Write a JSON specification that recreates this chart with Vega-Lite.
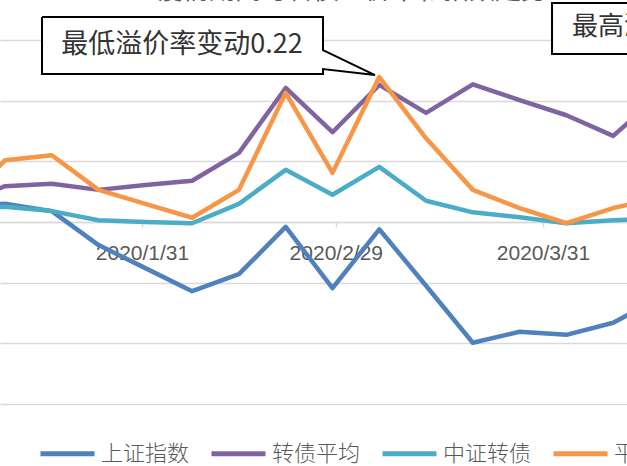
{
  "$schema": "https://vega.github.io/schema/vega-lite/v6.json",
  "width": 627,
  "height": 404,
  "autosize": {"type": "none"},
  "padding": {"left": 0, "top": 0, "right": 0, "bottom": 62},
  "background": "white",
  "config": {"view": {"stroke": null}},
  "datasets": {
    "series": [
      {"date": "2020-01-03T12:00", "series": "上证指数", "value": 0.028},
      {"date": "2020-01-10T12:00", "series": "上证指数", "value": 0.030},
      {"date": "2020-01-17T12:00", "series": "上证指数", "value": 0.018},
      {"date": "2020-01-24T12:00", "series": "上证指数", "value": -0.038},
      {"date": "2020-01-31T12:00", "series": "上证指数", "value": -0.076},
      {"date": "2020-02-07T12:00", "series": "上证指数", "value": -0.114},
      {"date": "2020-02-14T12:00", "series": "上证指数", "value": -0.086},
      {"date": "2020-02-21T12:00", "series": "上证指数", "value": -0.008},
      {"date": "2020-02-28T12:00", "series": "上证指数", "value": -0.109},
      {"date": "2020-03-06T12:00", "series": "上证指数", "value": -0.012},
      {"date": "2020-03-13T12:00", "series": "上证指数", "value": -0.105},
      {"date": "2020-03-20T12:00", "series": "上证指数", "value": -0.199},
      {"date": "2020-03-27T12:00", "series": "上证指数", "value": -0.181},
      {"date": "2020-04-03T12:00", "series": "上证指数", "value": -0.186},
      {"date": "2020-04-10T12:00", "series": "上证指数", "value": -0.166},
      {"date": "2020-04-17T12:00", "series": "上证指数", "value": -0.125},
      {"date": "2020-01-03T12:00", "series": "转债平均", "value": 0.030},
      {"date": "2020-01-10T12:00", "series": "转债平均", "value": 0.059},
      {"date": "2020-01-17T12:00", "series": "转债平均", "value": 0.063},
      {"date": "2020-01-24T12:00", "series": "转债平均", "value": 0.053},
      {"date": "2020-01-31T12:00", "series": "转债平均", "value": 0.061},
      {"date": "2020-02-07T12:00", "series": "转债平均", "value": 0.068},
      {"date": "2020-02-14T12:00", "series": "转债平均", "value": 0.114},
      {"date": "2020-02-21T12:00", "series": "转债平均", "value": 0.221},
      {"date": "2020-02-28T12:00", "series": "转债平均", "value": 0.148},
      {"date": "2020-03-06T12:00", "series": "转债平均", "value": 0.226},
      {"date": "2020-03-13T12:00", "series": "转债平均", "value": 0.180},
      {"date": "2020-03-20T12:00", "series": "转债平均", "value": 0.227},
      {"date": "2020-03-27T12:00", "series": "转债平均", "value": 0.201},
      {"date": "2020-04-03T12:00", "series": "转债平均", "value": 0.176},
      {"date": "2020-04-10T12:00", "series": "转债平均", "value": 0.142},
      {"date": "2020-04-17T12:00", "series": "转债平均", "value": 0.210},
      {"date": "2020-01-03T12:00", "series": "中证转债", "value": 0.022},
      {"date": "2020-01-10T12:00", "series": "中证转债", "value": 0.025},
      {"date": "2020-01-17T12:00", "series": "中证转债", "value": 0.018},
      {"date": "2020-01-24T12:00", "series": "中证转债", "value": 0.003},
      {"date": "2020-01-31T12:00", "series": "中证转债", "value": 0.000},
      {"date": "2020-02-07T12:00", "series": "中证转债", "value": -0.002},
      {"date": "2020-02-14T12:00", "series": "中证转债", "value": 0.030},
      {"date": "2020-02-21T12:00", "series": "中证转债", "value": 0.086},
      {"date": "2020-02-28T12:00", "series": "中证转债", "value": 0.045},
      {"date": "2020-03-06T12:00", "series": "中证转债", "value": 0.091},
      {"date": "2020-03-13T12:00", "series": "中证转债", "value": 0.035},
      {"date": "2020-03-20T12:00", "series": "中证转债", "value": 0.016},
      {"date": "2020-03-27T12:00", "series": "中证转债", "value": 0.008},
      {"date": "2020-04-03T12:00", "series": "中证转债", "value": -0.002},
      {"date": "2020-04-10T12:00", "series": "中证转债", "value": 0.003},
      {"date": "2020-04-17T12:00", "series": "中证转债", "value": 0.005},
      {"date": "2020-01-03T12:00", "series": "平均溢价率", "value": 0.020},
      {"date": "2020-01-10T12:00", "series": "平均溢价率", "value": 0.102},
      {"date": "2020-01-17T12:00", "series": "平均溢价率", "value": 0.110},
      {"date": "2020-01-24T12:00", "series": "平均溢价率", "value": 0.053},
      {"date": "2020-01-31T12:00", "series": "平均溢价率", "value": 0.030},
      {"date": "2020-02-07T12:00", "series": "平均溢价率", "value": 0.007},
      {"date": "2020-02-14T12:00", "series": "平均溢价率", "value": 0.053},
      {"date": "2020-02-21T12:00", "series": "平均溢价率", "value": 0.213},
      {"date": "2020-02-28T12:00", "series": "平均溢价率", "value": 0.081},
      {"date": "2020-03-06T12:00", "series": "平均溢价率", "value": 0.239},
      {"date": "2020-03-13T12:00", "series": "平均溢价率", "value": 0.138},
      {"date": "2020-03-20T12:00", "series": "平均溢价率", "value": 0.053},
      {"date": "2020-03-27T12:00", "series": "平均溢价率", "value": 0.023},
      {"date": "2020-04-03T12:00", "series": "平均溢价率", "value": -0.002},
      {"date": "2020-04-10T12:00", "series": "平均溢价率", "value": 0.023},
      {"date": "2020-04-17T12:00", "series": "平均溢价率", "value": 0.040}
    ],
    "boxes": [
      {"x1": "2020-01-16T00:53", "x2": "2020-02-27T02:00", "y1": 0.2439, "y2": 0.3379},
      {"x1": "2020-04-01T08:25", "x2": "2020-05-01T00:00", "y1": 0.2769, "y2": 0.361}
    ],
    "outline": [
      {"shape": "a", "i": 1, "x": "2020-01-16T00:53", "y": 0.3379},
      {"shape": "a", "i": 2, "x": "2020-02-27T02:00", "y": 0.3379},
      {"shape": "a", "i": 3, "x": "2020-02-27T02:00", "y": 0.2835},
      {"shape": "a", "i": 4, "x": "2020-03-05T20:45", "y": 0.2423},
      {"shape": "a", "i": 5, "x": "2020-02-27T02:00", "y": 0.2522},
      {"shape": "a", "i": 6, "x": "2020-02-27T02:00", "y": 0.2439},
      {"shape": "a", "i": 7, "x": "2020-01-16T00:53", "y": 0.2439},
      {"shape": "a", "i": 8, "x": "2020-01-16T00:53", "y": 0.3379},
      {"shape": "b", "i": 1, "x": "2020-05-01T00:00", "y": 0.2769},
      {"shape": "b", "i": 2, "x": "2020-04-01T08:25", "y": 0.2769},
      {"shape": "b", "i": 3, "x": "2020-04-01T08:25", "y": 0.361},
      {"shape": "b", "i": 4, "x": "2020-05-01T00:00", "y": 0.361}
    ],
    "label_low": [
      {"x": "2020-02-05T23:38", "y": 0.2917, "text": "最低溢价率变动0.22"}
    ],
    "label_high": [
      {"x": "2020-04-04T08:10", "y": 0.3214, "text": "最高溢价率变动"}
    ],
    "title": [
      {"x": "2020-03-02T10:00", "y": 0.368, "text": "疫情期间可转债溢价率和指数走势"}
    ]
  },
  "layer": [
    {
      "data": {"name": "series"},
      "mark": {"type": "line", "strokeWidth": 4.5, "strokeJoin": "round", "strokeCap": "round", "clip": true},
      "encoding": {
        "x": {
          "field": "date", "type": "temporal", "title": null,
          "scale": {"domain": [{"year": 2020, "month": 1, "date": 9, "hours": 18}, {"year": 2020, "month": 4, "date": 12, "hours": 13, "minutes": 40}]},
          "axis": {
            "values": [{"year": 2020, "month": 1, "date": 31}, {"year": 2020, "month": 2, "date": 29}, {"year": 2020, "month": 3, "date": 31}],
            "format": "%Y/%-m/%-d",
            "offset": -182,
            "grid": false,
            "domainColor": "#d9d9d9", "domainWidth": 1.5,
            "tickColor": "#d9d9d9", "tickWidth": 1.5, "tickSize": 5,
            "labelFont": "Liberation Sans", "labelFontSize": 21, "labelColor": "#595959",
            "labelPadding": 15, "labelFlush": false, "labelOverlap": false
          }
        },
        "y": {
          "field": "value", "type": "quantitative", "title": null,
          "scale": {"domain": [-0.3, 0.366], "nice": false, "zero": false},
          "axis": {
            "values": [-0.3, -0.2, -0.1, 0, 0.1, 0.2, 0.3],
            "labels": false, "ticks": false, "domain": false,
            "grid": true, "gridColor": "#d9d9d9", "gridWidth": 1.5
          }
        },
        "color": {
          "field": "series", "type": "nominal",
          "sort": ["上证指数", "转债平均", "中证转债", "平均溢价率"],
          "scale": {"domain": ["上证指数", "转债平均", "中证转债", "平均溢价率"], "range": ["#4F81BD", "#8064A2", "#4BACC6", "#F79646"]},
          "legend": {
            "title": null, "orient": "none", "legendX": 38, "legendY": 424,
            "direction": "horizontal", "columns": 4,
            "symbolType": "stroke", "symbolSize": 2916, "symbolStrokeWidth": 5,
            "labelFont": "Noto Sans CJK SC", "labelFontSize": 22, "labelFontWeight": 300, "labelColor": "#595959",
            "labelOffset": 4, "columnPadding": 11, "labelLimit": 300, "padding": 0
          }
        }
      }
    },
    {
      "data": {"name": "boxes"},
      "mark": {"type": "rect", "fill": "white", "strokeWidth": 0},
      "encoding": {
        "x": {"field": "x1", "type": "temporal", "title": null},
        "x2": {"field": "x2"},
        "y": {"field": "y1", "type": "quantitative", "title": null},
        "y2": {"field": "y2"}
      }
    },
    {
      "data": {"name": "outline"},
      "mark": {"type": "line", "color": "black", "strokeWidth": 2, "strokeJoin": "miter"},
      "encoding": {
        "x": {"field": "x", "type": "temporal", "title": null},
        "y": {"field": "y", "type": "quantitative", "title": null},
        "detail": {"field": "shape", "type": "nominal"},
        "order": {"field": "i", "type": "quantitative"}
      }
    },
    {
      "data": {"name": "label_low"},
      "mark": {"type": "text", "font": "Noto Sans CJK SC", "fontSize": 27, "color": "#333333", "baseline": "middle", "align": "center"},
      "encoding": {
        "x": {"field": "x", "type": "temporal", "title": null},
        "y": {"field": "y", "type": "quantitative", "title": null},
        "text": {"field": "text", "type": "nominal"}
      }
    },
    {
      "data": {"name": "label_high"},
      "mark": {"type": "text", "font": "Noto Sans CJK SC", "fontSize": 26, "color": "#333333", "baseline": "middle", "align": "left"},
      "encoding": {
        "x": {"field": "x", "type": "temporal", "title": null},
        "y": {"field": "y", "type": "quantitative", "title": null},
        "text": {"field": "text", "type": "nominal"}
      }
    },
    {
      "data": {"name": "title"},
      "mark": {"type": "text", "font": "Noto Sans CJK SC", "fontSize": 26, "color": "#595959", "baseline": "alphabetic", "align": "center"},
      "encoding": {
        "x": {"field": "x", "type": "temporal", "title": null},
        "y": {"field": "y", "type": "quantitative", "title": null},
        "text": {"field": "text", "type": "nominal"}
      }
    }
  ]
}
